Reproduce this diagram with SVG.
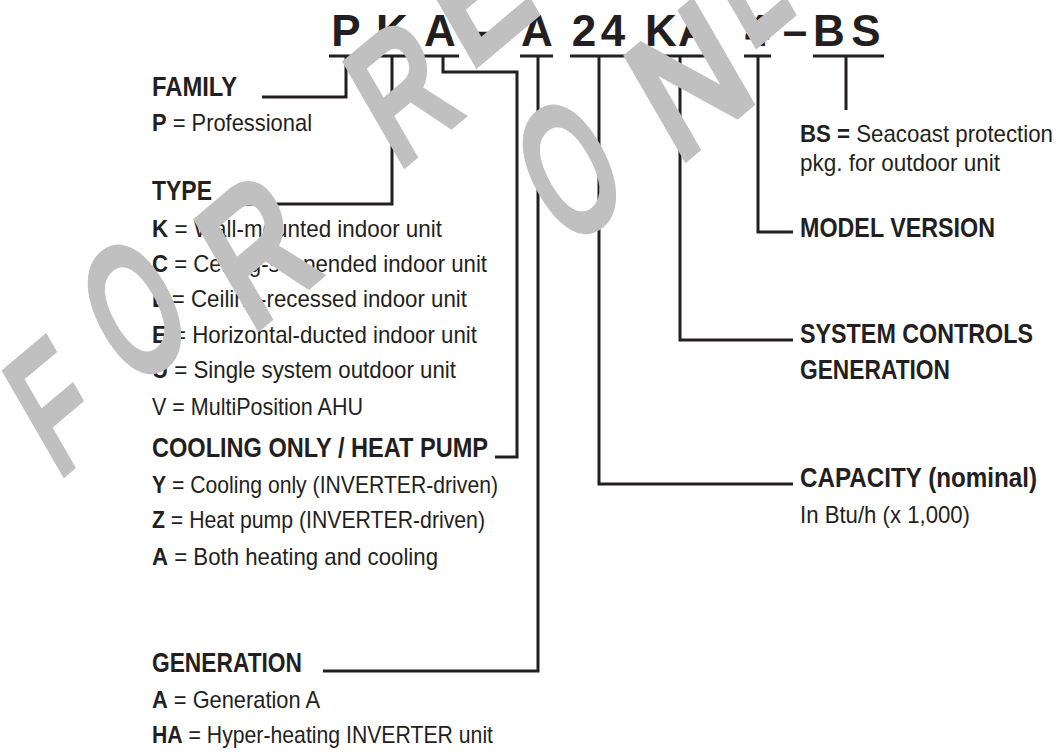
<svg xmlns="http://www.w3.org/2000/svg" width="1060" height="752" viewBox="0 0 1060 752">
<style>
.hd{font-family:"Liberation Sans Narrow","Liberation Sans",Arial,sans-serif;font-weight:bold;font-size:28px;fill:#231f20}
.tx{font-family:"Liberation Sans Narrow","Liberation Sans",Arial,sans-serif;font-size:24px;fill:#231f20}
.b{font-weight:bold}
.code{font-family:"Liberation Sans",Arial,sans-serif;font-weight:bold;font-size:44px;fill:#231f20}
.ln{fill:none;stroke:#231f20;stroke-width:3;stroke-linejoin:miter}
.wm{font-family:"Liberation Sans",Arial,sans-serif;font-size:165px;fill:#c0c0c0;stroke:#c0c0c0;stroke-width:9;stroke-linejoin:miter}
</style>
<rect width="1060" height="752" fill="#ffffff"/>
<g id="model-code">
<text class="code" y="46" text-anchor="middle"><tspan x="346">P</tspan><tspan x="392">K</tspan><tspan x="440">A</tspan><tspan x="482">-</tspan><tspan x="537">A</tspan><tspan x="584">2</tspan><tspan x="613">4</tspan><tspan x="661">K</tspan><tspan x="694">A</tspan><tspan x="757">4</tspan><tspan x="795">–</tspan><tspan x="829">B</tspan><tspan x="866">S</tspan></text>
</g>
<g id="connectors">
<path class="ln" d="M329,56H363M377,56H409M424,56H459M520,56H553M570,56H629M644,56H719M744,56H771M813,56H884"/>
<path class="ln" d="M346,56V97H262"/>
<path class="ln" d="M392,56V204H237"/>
<path class="ln" d="M443,56V72H517V457H495"/>
<path class="ln" d="M538,56V671H323"/>
<path class="ln" d="M599,56V484H793"/>
<path class="ln" d="M680,56V340H793"/>
<path class="ln" d="M758,56V232H793"/>
<path class="ln" d="M846,56V110"/>
</g>
<g id="family">
<text class="hd" x="152" y="96" textLength="85" lengthAdjust="spacingAndGlyphs">FAMILY</text>
<text class="tx" x="152" y="131" textLength="160" lengthAdjust="spacingAndGlyphs"><tspan class="b">P</tspan> = Professional</text>
</g>
<g id="type">
<text class="hd" x="152" y="200" textLength="60" lengthAdjust="spacingAndGlyphs">TYPE</text>
<text class="tx" x="152" y="237" textLength="290" lengthAdjust="spacingAndGlyphs"><tspan class="b">K</tspan> = Wall-mounted indoor unit</text>
<text class="tx" x="152" y="272" textLength="335" lengthAdjust="spacingAndGlyphs"><tspan class="b">C</tspan> = Ceiling-suspended indoor unit</text>
<text class="tx" x="152" y="307" textLength="315" lengthAdjust="spacingAndGlyphs"><tspan class="b">L</tspan> = Ceiling-recessed indoor unit</text>
<text class="tx" x="152" y="343" textLength="325" lengthAdjust="spacingAndGlyphs"><tspan class="b">E</tspan> = Horizontal-ducted indoor unit</text>
<text class="tx" x="152" y="378" textLength="304" lengthAdjust="spacingAndGlyphs"><tspan class="b">U</tspan> = Single system outdoor unit</text>
<text class="tx" x="152" y="415" textLength="211" lengthAdjust="spacingAndGlyphs">V = MultiPosition AHU</text>
</g>
<g id="cooling-heat-pump">
<text class="hd" x="152" y="457" textLength="336" lengthAdjust="spacingAndGlyphs">COOLING ONLY / HEAT PUMP</text>
<text class="tx" x="152" y="493" textLength="346" lengthAdjust="spacingAndGlyphs"><tspan class="b">Y</tspan> = Cooling only (INVERTER-driven)</text>
<text class="tx" x="152" y="528" textLength="333" lengthAdjust="spacingAndGlyphs"><tspan class="b">Z</tspan> = Heat pump (INVERTER-driven)</text>
<text class="tx" x="152" y="565" textLength="286" lengthAdjust="spacingAndGlyphs"><tspan class="b">A</tspan> = Both heating and cooling</text>
</g>
<g id="generation">
<text class="hd" x="152" y="672" textLength="150" lengthAdjust="spacingAndGlyphs">GENERATION</text>
<text class="tx" x="152" y="708" textLength="168" lengthAdjust="spacingAndGlyphs"><tspan class="b">A</tspan> = Generation A</text>
<text class="tx" x="152" y="743" textLength="341" lengthAdjust="spacingAndGlyphs"><tspan class="b">HA</tspan> = Hyper-heating INVERTER unit</text>
</g>
<g id="seacoast">
<text class="tx" x="800" y="142" textLength="253" lengthAdjust="spacingAndGlyphs"><tspan class="b">BS =</tspan> Seacoast protection</text>
<text class="tx" x="800" y="171" textLength="200" lengthAdjust="spacingAndGlyphs">pkg. for outdoor unit</text>
</g>
<g id="model-version">
<text class="hd" x="800" y="237" textLength="195" lengthAdjust="spacingAndGlyphs">MODEL VERSION</text>
</g>
<g id="system-controls">
<text class="hd" x="800" y="343" textLength="233" lengthAdjust="spacingAndGlyphs">SYSTEM CONTROLS</text>
<text class="hd" x="800" y="379" textLength="150" lengthAdjust="spacingAndGlyphs">GENERATION</text>
</g>
<g id="capacity">
<text class="hd" x="800" y="487" textLength="237" lengthAdjust="spacingAndGlyphs">CAPACITY (nominal)</text>
<text class="tx" x="800" y="523" textLength="170" lengthAdjust="spacingAndGlyphs">In Btu/h (x 1,000)</text>
</g>
<g id="watermark" class="wm" text-anchor="middle">
<text transform="translate(82,457) rotate(-40) skewX(-10) scale(0.65,1)">F</text>
<text transform="translate(165,362) rotate(-40) skewX(-10) scale(0.65,1.05)">O</text>
<text transform="translate(287,302) rotate(-40) skewX(-10) scale(0.8,1.05)">R</text>
<text transform="translate(431,141) rotate(-40) skewX(-10) scale(0.75,1)">R</text>
<text transform="translate(504,40) rotate(-40) skewX(-10) scale(0.85,1)">E</text>
<text transform="translate(600,222) rotate(-40) skewX(-10) scale(0.65,1.05)">O</text>
<text transform="translate(718,130) rotate(-40) skewX(-10) scale(0.9,1)">N</text>
<text transform="translate(772,30) rotate(-40) skewX(-10) scale(0.65,1)">L</text>
</g>
</svg>
